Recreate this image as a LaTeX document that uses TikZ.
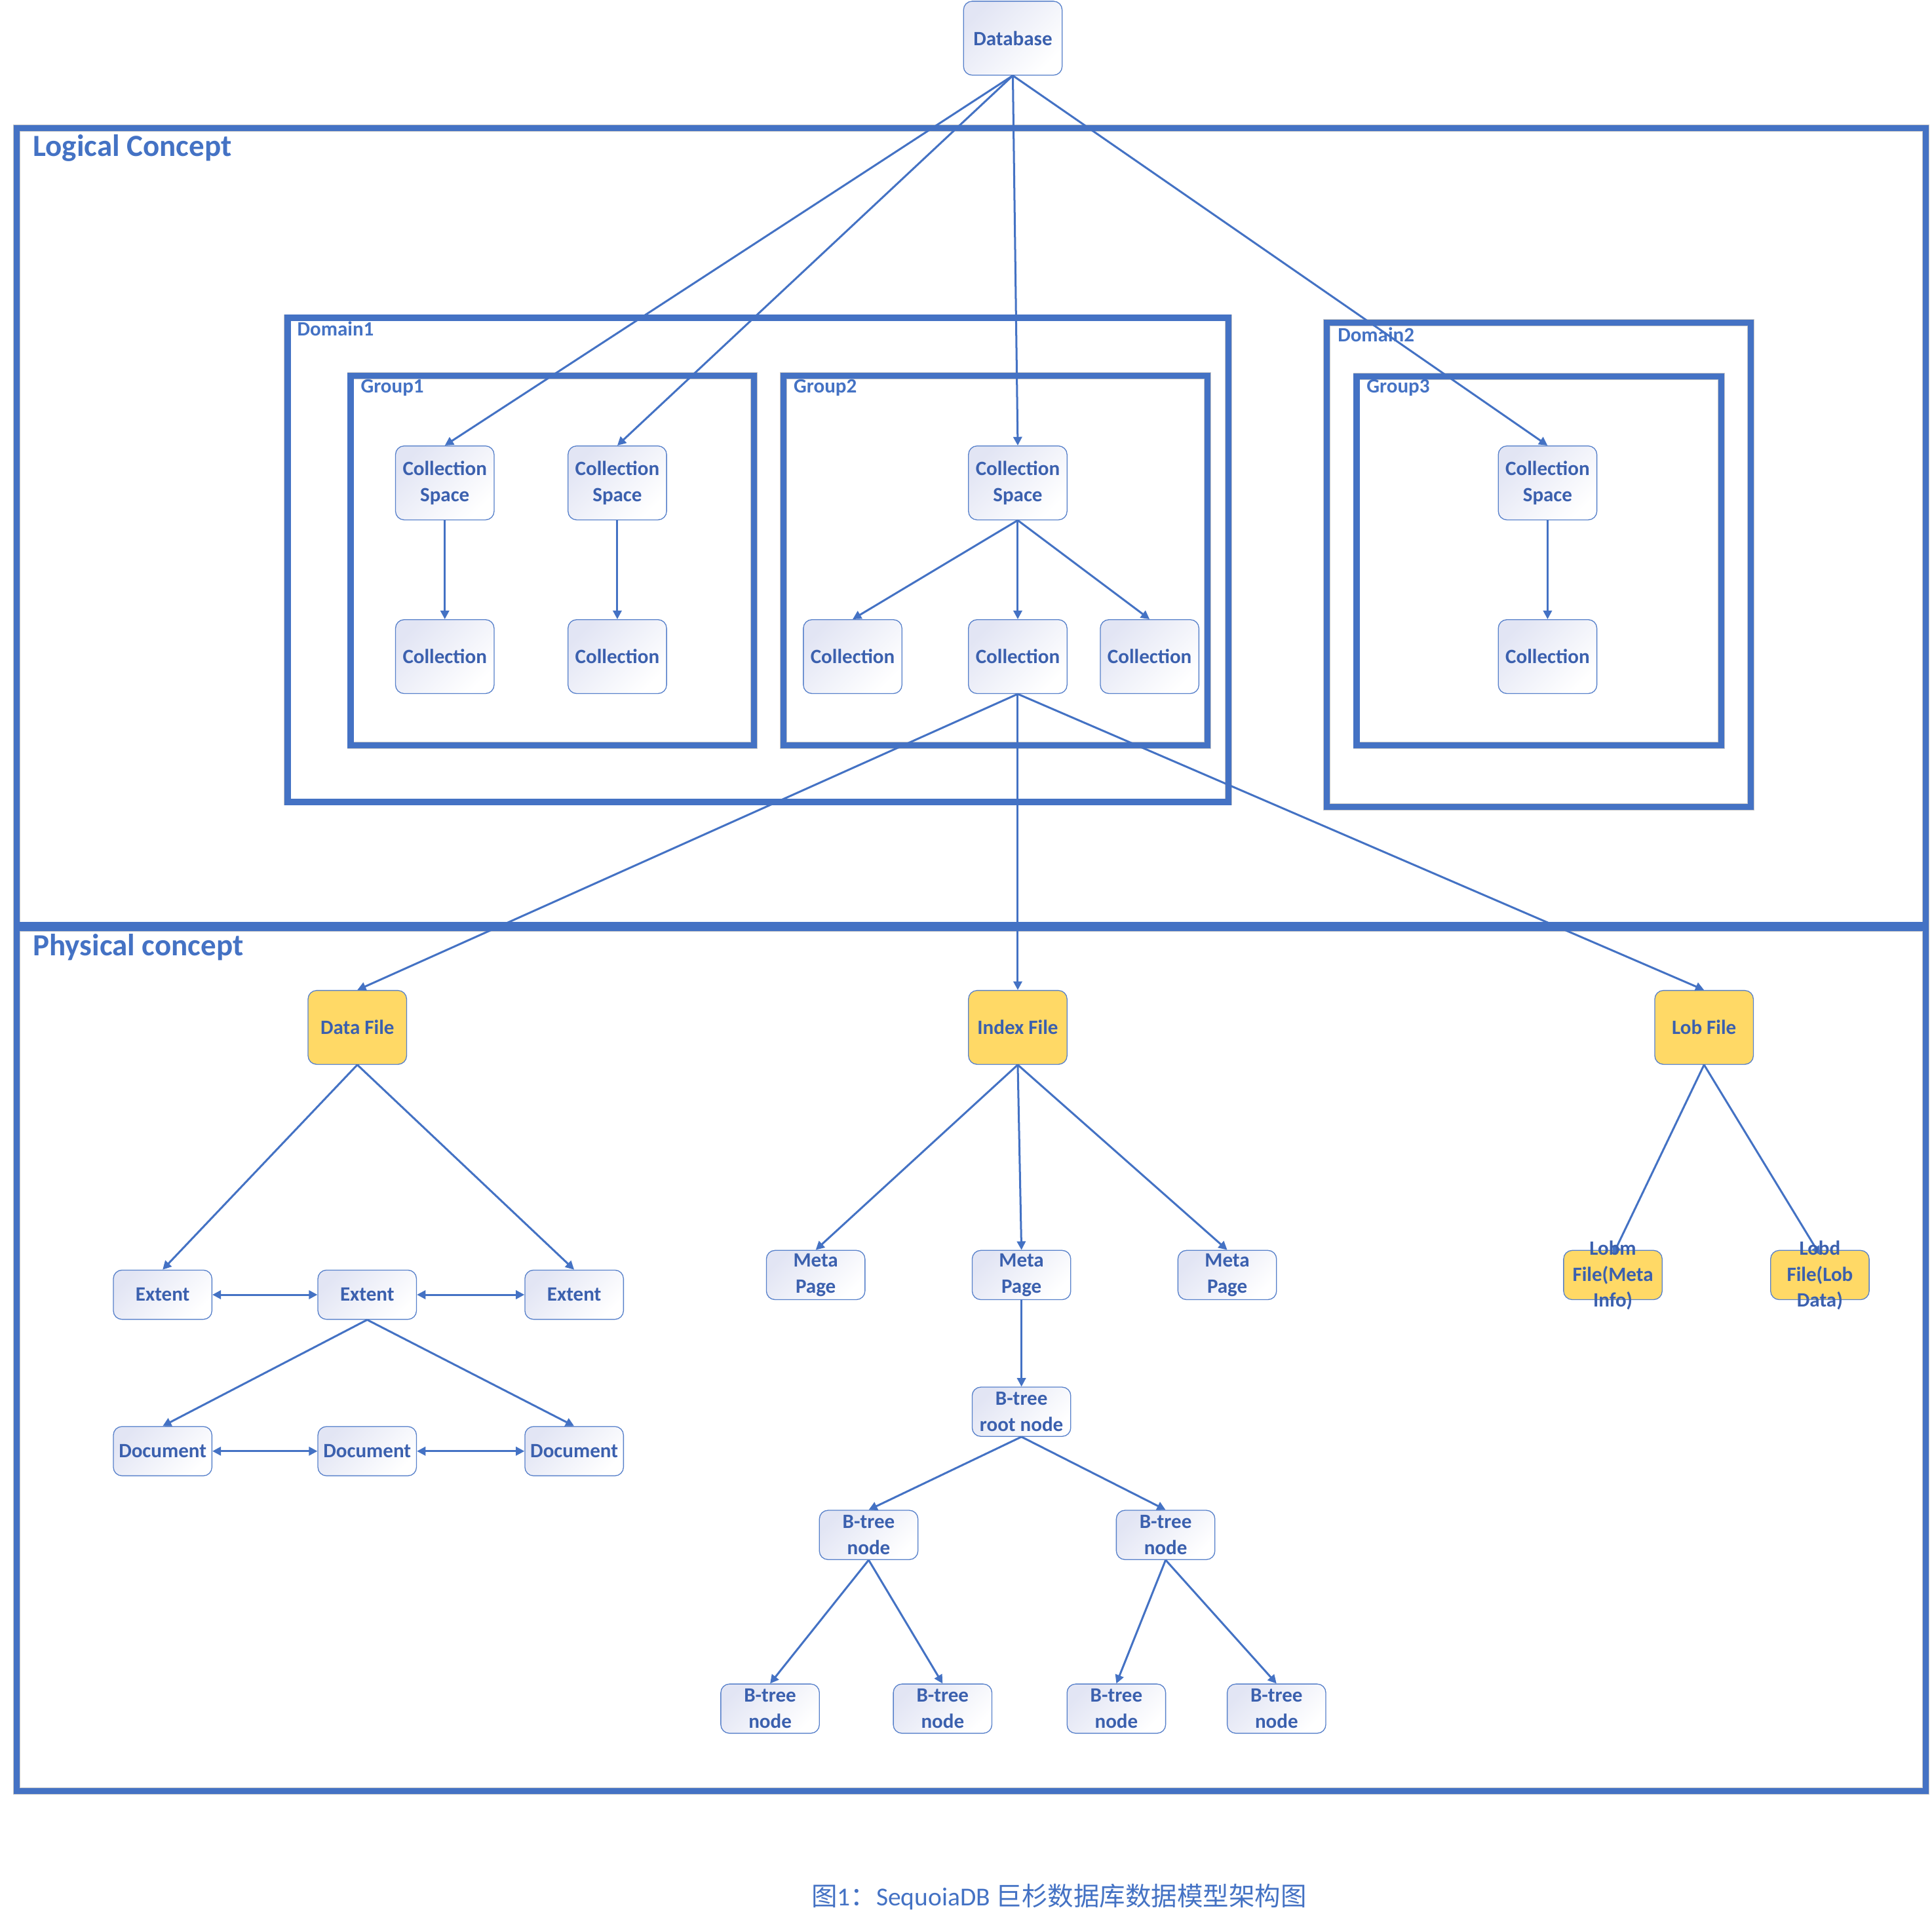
\documentclass[tikz,border=0pt]{standalone}
\usepackage{fontspec}
\setmainfont{Carlito}
\newfontfamily\cjk{Noto Sans CJK SC}
\usetikzlibrary{arrows.meta}
\definecolor{lineblue}{HTML}{4472C4}
\definecolor{txtblue}{HTML}{3B60AE}
\definecolor{lav}{HTML}{E2E5F4}
\definecolor{gold}{HTML}{FFD966}
\begin{document}
\begin{tikzpicture}[x=1pt,y=-1pt,
  base/.style={rectangle, rounded corners=7pt, draw=lineblue!90, line width=0.7pt,
    minimum width=80pt, inner sep=0pt, align=center,
    font=\fontsize{16.5}{21}\selectfont\bfseries, text=txtblue},
  soft/.style={base, top color=lav, bottom color=white, shading angle=45},
  tall/.style={soft, minimum height=60pt},
  short/.style={soft, minimum height=40pt},
  yel/.style={base, fill=gold, minimum height=60pt},
  yelshort/.style={base, fill=gold, minimum height=40pt},
  txt/.style={inner sep=0pt, align=center, font=\fontsize{16.5}{21}\selectfont\bfseries, text=txtblue},
  frame/.style={draw=black!22, double=lineblue, double distance=5pt, line width=0.35pt},
  lbl/.style={anchor=base west, inner sep=0pt, text=lineblue, font=\fontsize{16.5}{20}\selectfont\bfseries},
  title/.style={anchor=base west, inner sep=0pt, text=lineblue, font=\fontsize{25}{30}\selectfont\bfseries},
  conn/.style={draw=lineblue, line width=1.6pt, -{Triangle[length=7pt,width=7pt]}},
  biconn/.style={draw=lineblue, line width=1.6pt, {Triangle[length=7pt,width=7pt]}-{Triangle[length=7pt,width=7pt]}}
]
\fill[white] (0,0) rectangle (1568,1564);
\useasboundingbox (0,0) rectangle (1568,1564);

% frames
\draw[frame] (13.5,753.5) rectangle (1563,1454);
\draw[frame] (13.5,104) rectangle (1563,751);
\draw[frame] (233.4,258) rectangle (997,651);
\draw[frame] (284.6,305) rectangle (612,605);
\draw[frame] (636,305) rectangle (980,605);
\draw[frame] (1076.8,262) rectangle (1421,655);
\draw[frame] (1101,305.5) rectangle (1397,605);

% frame labels
\node[title] (tlog) at (26.6,126.6) {Logical Concept};
\node[title] (tphy) at (26.6,776) {Physical concept};
\node[lbl] (ldom1) at (241.1,272.7) {Domain1};
\node[lbl] (ldom2) at (1085.5,277.5) {Domain2};
\node[lbl] (lg1) at (292.6,319.1) {Group1};
\node[lbl] (lg2) at (644,319.1) {Group2};
\node[lbl] (lg3) at (1109,319.1) {Group3};

% nodes: logical
\node[tall] (db) at (822,31) {Database};
\node[tall] (cs1) at (361,392) {Collection\\Space};
\node[tall] (cs2) at (501,392) {Collection\\Space};
\node[tall] (cs3) at (826,392) {Collection\\Space};
\node[tall] (cs4) at (1256,392) {Collection\\Space};
\node[tall] (c1) at (361,533) {Collection};
\node[tall] (c2) at (501,533) {Collection};
\node[tall] (c3a) at (692,533) {Collection};
\node[tall] (c3b) at (826,533) {Collection};
\node[tall] (c3c) at (933,533) {Collection};
\node[tall] (c4) at (1256,533) {Collection};

% nodes: physical
\node[yel] (df) at (290,834) {Data File};
\node[yel] (ix) at (826,834) {Index File};
\node[yel] (lf) at (1383,834) {Lob File};

\node[short] (e1) at (132,1051) {Extent};
\node[short] (e2) at (298,1051) {Extent};
\node[short] (e3) at (466,1051) {Extent};
\node[short] (d1) at (132,1178) {Document};
\node[short] (d2) at (298,1178) {Document};
\node[short] (d3) at (466,1178) {Document};

\node[short] (m1) at (662,1035) {Meta\\Page};
\node[short] (m2) at (829,1035) {Meta\\Page};
\node[short] (m3) at (996,1035) {Meta\\Page};
\node[short] (root) at (829,1146) {B-tree\\root node};
\node[short] (b1) at (705,1246) {B-tree\\node};
\node[short] (b2) at (946,1246) {B-tree\\node};
\node[short] (l1) at (625,1387) {B-tree\\node};
\node[short] (l2) at (765,1387) {B-tree\\node};
\node[short] (l3) at (906,1387) {B-tree\\node};
\node[short] (l4) at (1036,1387) {B-tree\\node};

\node[yelshort] (lm) at (1309,1035) {};
\node[yelshort] (ld) at (1477,1035) {};

% caption
\node[anchor=base, inner sep=0pt, text=lineblue, font=\fontsize{21}{25}\selectfont] (cap) at (859.5,1547)
  {{\cjk 图}1{\cjk ：}SequoiaDB {\cjk 巨杉数据库数据模型架构图}};

% connectors: logical
\draw[conn] (db.south) -- (cs1.north);
\draw[conn] (db.south) -- (cs2.north);
\draw[conn] (db.south) -- (cs3.north);
\draw[conn] (db.south) -- (cs4.north);
\draw[conn] (cs1.south) -- (c1.north);
\draw[conn] (cs2.south) -- (c2.north);
\draw[conn] (cs3.south) -- (c3a.north);
\draw[conn] (cs3.south) -- (c3b.north);
\draw[conn] (cs3.south) -- (c3c.north);
\draw[conn] (cs4.south) -- (c4.north);

% connectors: to physical
\draw[conn] (c3b.south) -- (df.north);
\draw[conn] (c3b.south) -- (ix.north);
\draw[conn] (c3b.south) -- (lf.north);

% data file
\draw[conn] (df.south) -- (e1.north);
\draw[conn] (df.south) -- (e3.north);
\draw[biconn] (e1.east) -- (e2.west);
\draw[biconn] (e2.east) -- (e3.west);
\draw[conn] (e2.south) -- (d1.north);
\draw[conn] (e2.south) -- (d3.north);
\draw[biconn] (d1.east) -- (d2.west);
\draw[biconn] (d2.east) -- (d3.west);

% index file
\draw[conn] (ix.south) -- (m1.north);
\draw[conn] (ix.south) -- (m2.north);
\draw[conn] (ix.south) -- (m3.north);
\draw[conn] (m2.south) -- (root.north);
\draw[conn] (root.south) -- (b1.north);
\draw[conn] (root.south) -- (b2.north);
\draw[conn] (b1.south) -- (l1.north);
\draw[conn] (b1.south) -- (l2.north);
\draw[conn] (b2.south) -- (l3.north);
\draw[conn] (b2.south) -- (l4.north);

% lob file
\draw[conn] (lf.south) -- ([yshift=-4pt]lm.north);
\draw[conn] (lf.south) -- ([yshift=-4pt]ld.north);

% lob texts (overflowing their boxes)
\node[txt] (lmt) at (1309,1035.5) {Lobm\\File(Meta\\Info)};
\node[txt] (ldt) at (1477,1035.5) {Lobd\\File(Lob\\Data)};
\end{tikzpicture}
\end{document}
